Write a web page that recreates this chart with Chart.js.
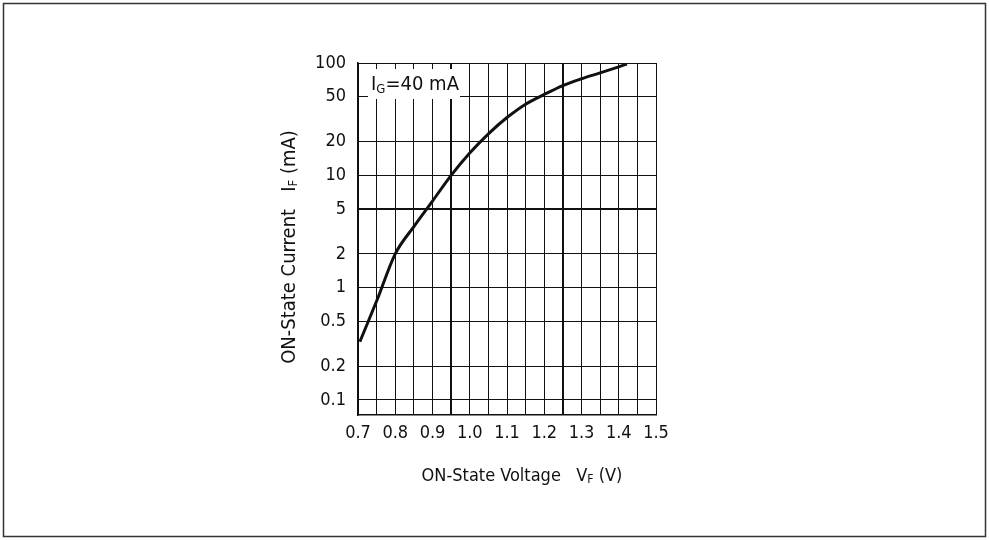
<!DOCTYPE html>
<html><head><meta charset="utf-8">
<script src="https://cdn.jsdelivr.net/npm/chart.js@4.4.1/dist/chart.umd.min.js"></script>
<style>html,body{margin:0;padding:0;background:#fff;}#wrap{width:989px;height:540px;}</style>
</head><body><div id="wrap"><canvas id="c" width="989" height="540"></canvas></div>
<script>
// ---- data ----
const voltage = [0.705, 0.75, 0.8, 0.85, 0.9, 0.95, 1.0, 1.05, 1.1, 1.15, 1.2, 1.25, 1.3, 1.35, 1.4, 1.422];
const current = [0.33, 0.76, 2.0, 3.5, 5.9, 10, 15.8, 23.4, 32.7, 43, 52.5, 63, 72.4, 81.7, 92.5, 98];
const xTickLabels = ['0.7','0.8','0.9','1.0','1.1','1.2','1.3','1.4','1.5'];
const yTickValues = [0.1, 0.2, 0.5, 1, 2, 5, 10, 20, 50, 100];
const yTickLabels = ['0.1','0.2','0.5','1','2','5','10','20','50','100'];
const xMin = 0.7, xMax = 1.5, xStep = 0.05;
const yMin = 0.0735, yMax = 100;

const FONT = "'Liberation Sans Narrow','Arial Narrow','DejaVu Sans Condensed',sans-serif";
const INK = '#111';

function drawRich(ctx, parts, cx, baseline) {
  let total = 0;
  parts.forEach(p => { ctx.font = p.size + 'px ' + FONT; p.w = ctx.measureText(p.t).width; total += p.w; });
  let x = cx - total / 2;
  ctx.textAlign = 'left'; ctx.textBaseline = 'alphabetic';
  parts.forEach(p => { ctx.font = p.size + 'px ' + FONT; ctx.fillText(p.t, x, baseline + (p.dy || 0)); x += p.w; });
  return total;
}

const deco = {
  id: 'deco',
  beforeDraw(chart) {
    const c = chart.ctx; c.save(); c.fillStyle = '#fff'; c.fillRect(0, 0, chart.width, chart.height); c.restore();
  },
  afterDraw(chart) {
    const c = chart.ctx, a = chart.chartArea;
    c.save();
    // outer frame
    c.strokeStyle = '#333'; c.lineWidth = 1.5;
    c.strokeRect(3.5, 3.5, chart.width - 7, chart.height - 7);
    // annotation box
    c.fillStyle = '#fff';
    c.fillRect(a.left + 10, a.top + 6, 92, 30);
    c.fillStyle = INK;
    drawRich(c, [{t:'I', size:20}, {t:'G', size:13, dy:3}, {t:'=40 mA', size:20}], a.left + 57, a.top + 27);
    // x title
    drawRich(c, [{t:'ON-State Voltage   V', size:18}, {t:'F', size:12, dy:2}, {t:' (V)', size:18}], a.left + 164, a.bottom + 66);
    // y title
    c.translate(a.left - 63, (a.top + a.bottom) / 2 + 8);
    c.rotate(-Math.PI / 2);
    drawRich(c, [{t:'ON-State Current   I', size:20}, {t:'F', size:13, dy:2}, {t:' (mA)', size:20}], 0, 0);
    c.restore();
  }
};

new Chart(document.getElementById('c'), {
  type: 'scatter',
  data: {
    datasets: [{
      data: voltage.map((v, i) => ({x: v, y: current[i]})),
      showLine: true,
      borderColor: INK,
      borderWidth: 3,
      pointRadius: 0,
      cubicInterpolationMode: 'monotone',
      fill: false
    }]
  },
  options: {
    responsive: false,
    animation: false,
    events: [],
    layout: {padding: {left: 0, right: 333, top: 63, bottom: 0}},
    plugins: {legend: {display: false}, tooltip: {enabled: false}},
    scales: {
      x: {
        type: 'linear', min: xMin, max: xMax,
        afterFit(s) { s.height = 125; },
        afterBuildTicks(s) {
          const n = Math.round((xMax - xMin) / xStep);
          s.ticks = Array.from({length: n + 1}, (_, i) => ({value: +(xMin + i * xStep).toFixed(2)}));
        },
        ticks: {
          autoSkip: false, maxRotation: 0, padding: 8, color: INK,
          font: {family: FONT, size: 18},
          callback: (v, i) => (i % 2 === 0 ? xTickLabels[i / 2] : '')
        },
        grid: {
          drawTicks: false, color: INK,
          lineWidth: ctx => (ctx.tick && (Math.abs(ctx.tick.value - 0.95) < 1e-6 || Math.abs(ctx.tick.value - 1.25) < 1e-6) ? 2 : 1)
        },
        border: {display: true, color: INK, width: 1.5}
      },
      y: {
        type: 'logarithmic', min: yMin, max: yMax,
        afterFit(s) { s.width = 358; },
        afterBuildTicks(s) { s.ticks = yTickValues.map(v => ({value: v})); },
        ticks: {
          autoSkip: false, padding: 12, color: INK,
          font: {family: FONT, size: 18},
          callback: (v) => { const i = yTickValues.indexOf(v); return i >= 0 ? yTickLabels[i] : ''; }
        },
        grid: {
          drawTicks: false, color: INK,
          lineWidth: ctx => (ctx.tick && ctx.tick.value === 5 ? 2 : 1)
        },
        border: {display: true, color: INK, width: 1.5}
      }
    }
  },
  plugins: [deco]
});
</script></body></html>
